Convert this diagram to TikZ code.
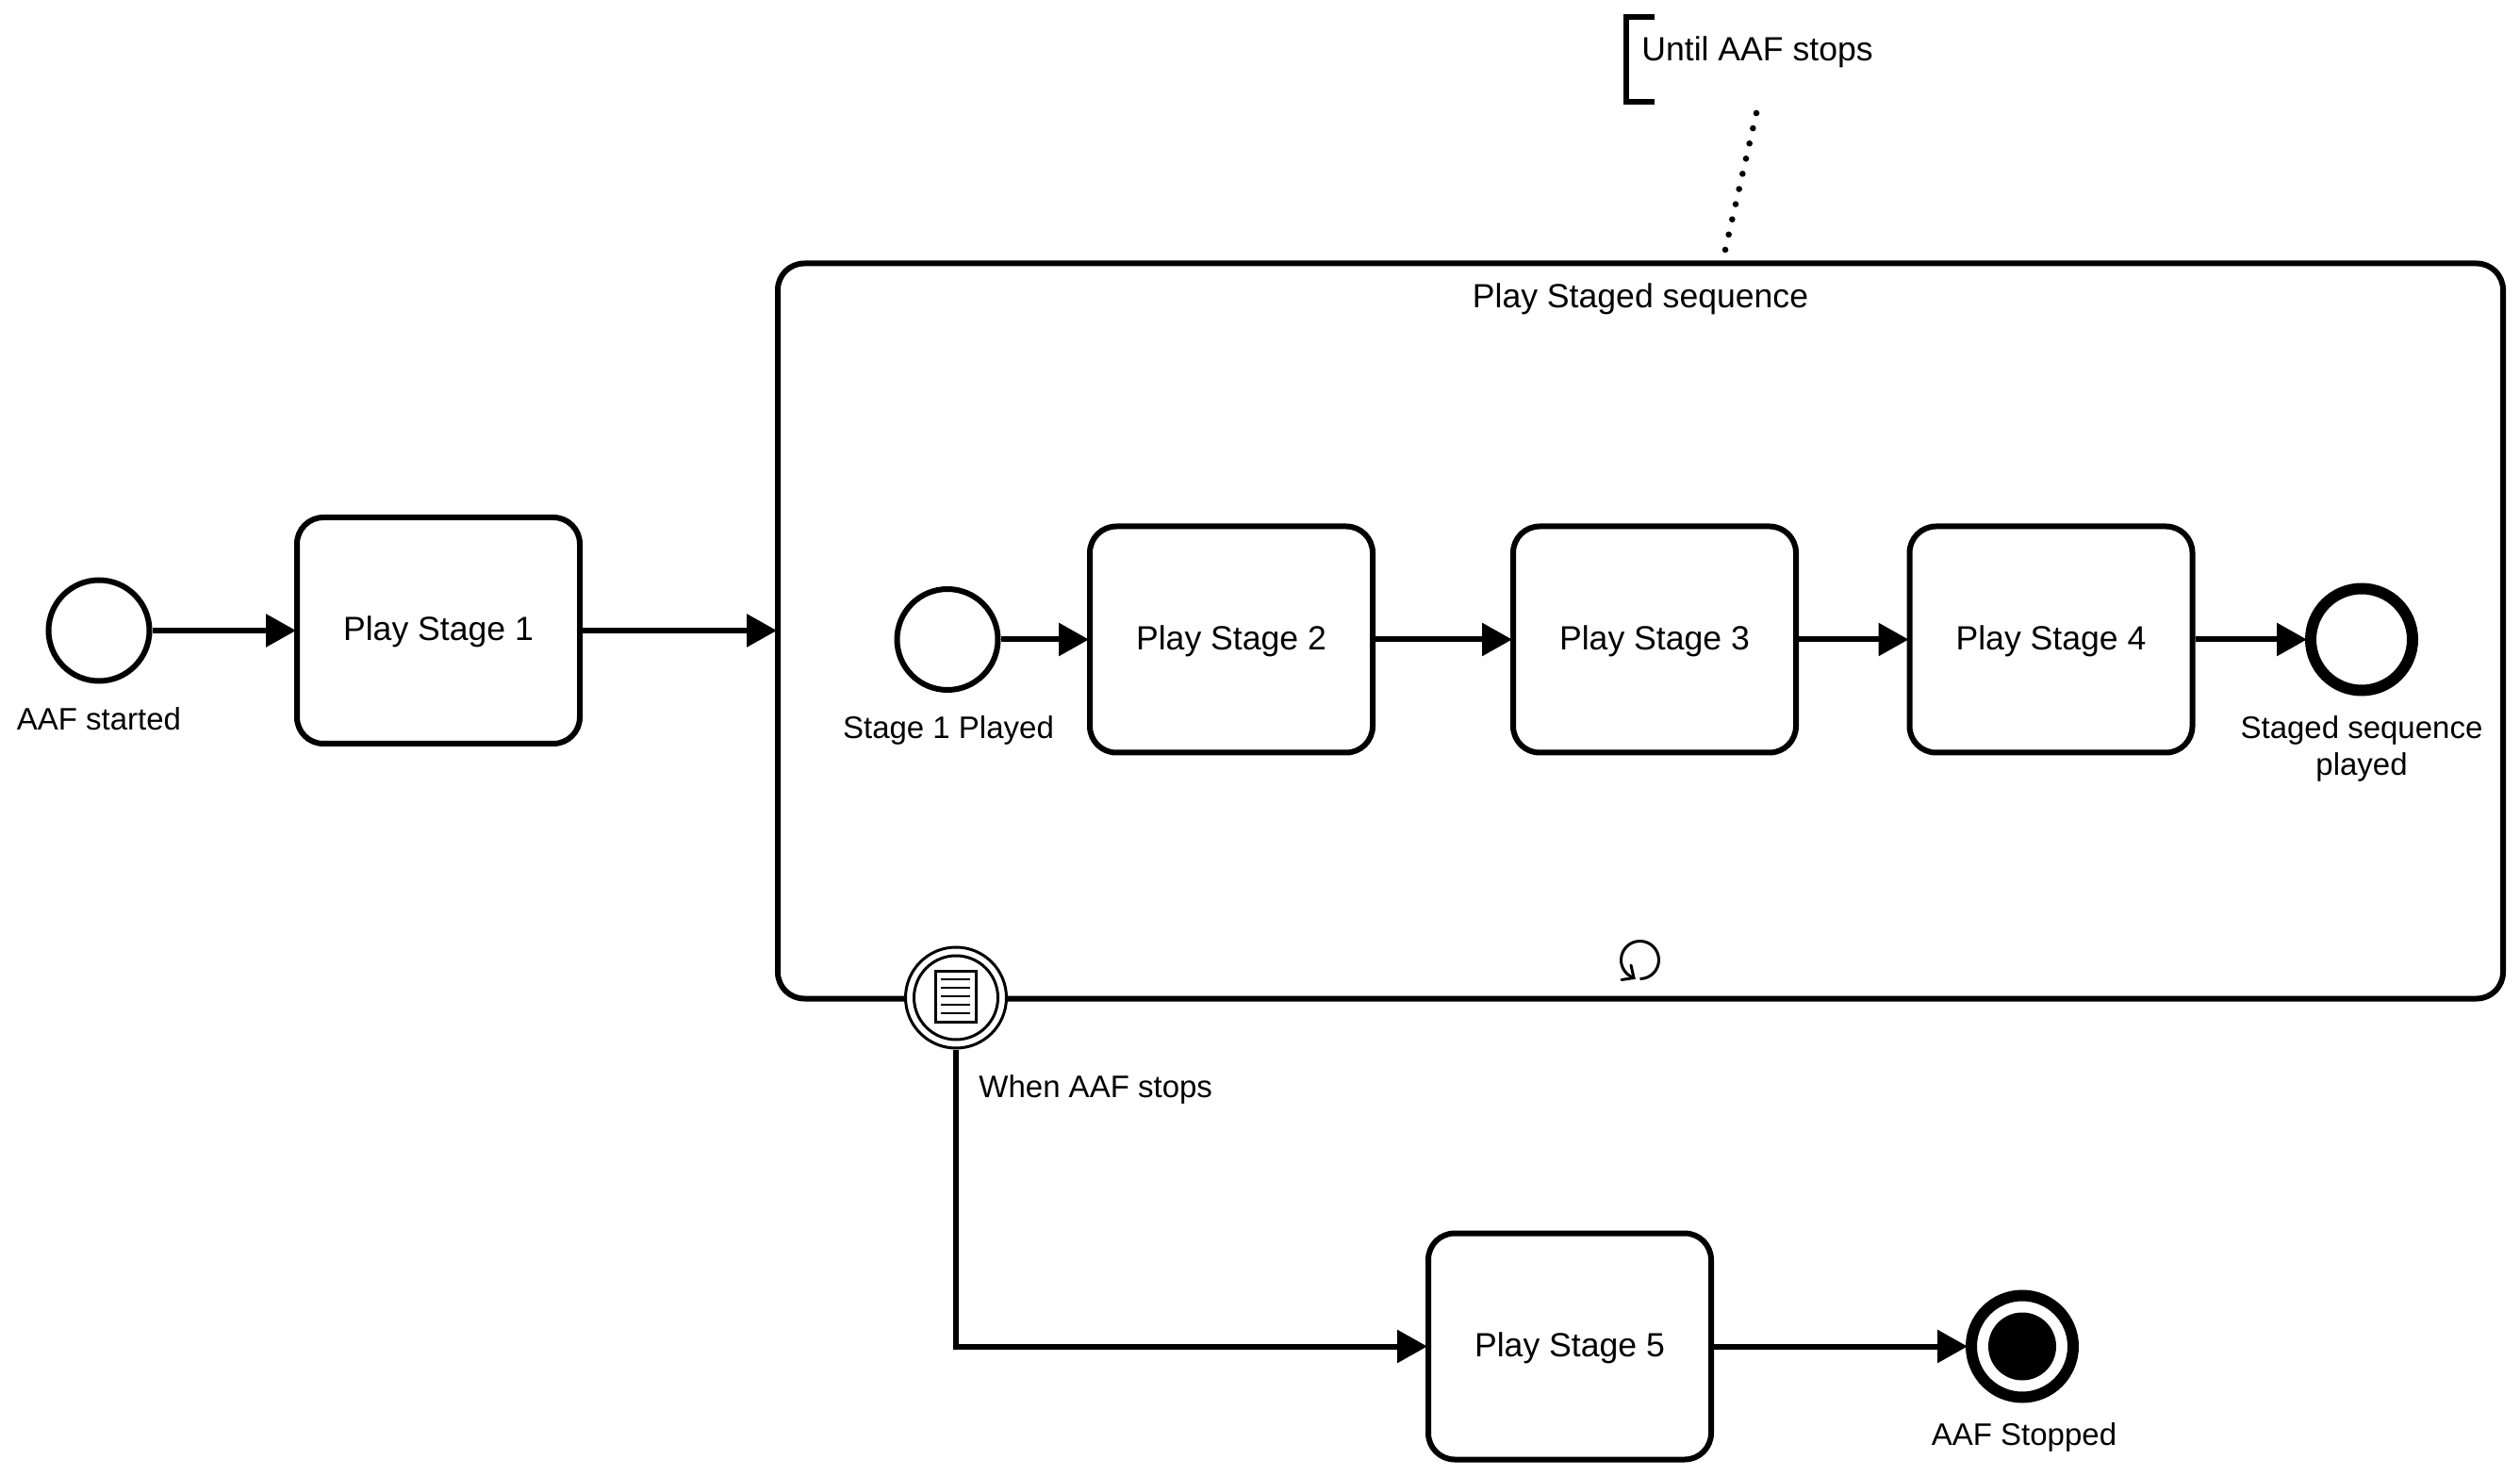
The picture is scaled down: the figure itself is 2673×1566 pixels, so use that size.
\documentclass[tikz,border=0pt]{standalone}
\usepackage{fontspec}
\setmainfont{Liberation Sans}
\usetikzlibrary{arrows.meta}
\tikzset{
  px/.style={x=0.5pt,y=-0.5pt},
  task/.style={draw=black,line width=3pt,rounded corners=14pt,fill=white,minimum width=150pt,minimum height=120pt,inner sep=0pt,font=\fontsize{17.8}{20}\selectfont,text height=12.7pt,text depth=1.7pt},
  evstart/.style={circle,draw=black,line width=3pt,fill=white,minimum size=53.5pt,inner sep=0pt},
  evend/.style={circle,draw=black,line width=6pt,fill=white,minimum size=54pt,inner sep=0pt},
  lbl/.style={font=\fontsize{16.5}{20}\selectfont,anchor=base,inner sep=0pt,align=center},
  head/.style={font=\fontsize{17.8}{20}\selectfont,anchor=base,inner sep=0pt},
  flow/.style={draw=black,line width=3pt,shorten >=-1pt,-{Triangle[length=16pt,width=17pt]}},
  thinrim/.style={circle,draw=black,line width=1.5pt,fill=white,inner sep=0pt},
  icon/.style={draw=black,line width=1.3pt},
}
\begin{document}
\begin{tikzpicture}[px]
\useasboundingbox (0,0) rectangle (2673,1566);
\fill[white] (0,0) rectangle (2673,1566);

% expanded subprocess
\node[draw=black,line width=3pt,rounded corners=14pt,fill=white,minimum width=915pt,minimum height=390pt,inner sep=0pt] (sub) at (1740,669.5) {};
\node[head] (subt) at (1740,327) {Play Staged sequence};

% loop marker
\draw[line width=1.5pt] (1739.5,1038.5) coordinate (lps) arc[start angle=-90,end angle=248,radius=10pt] coordinate (lpe);
\draw[line width=1.5pt,line cap=round,line join=miter] (1730,1024) -- (1733,1037.5) -- (1720,1039.5);

% top level
\node[evstart] (s0) at (105,669) {};
\node[lbl] (s0l) at (105,775) {AAF started};
\node[task] (t1) at (465,669) {Play Stage 1};

% inner sequence
\node[evstart] (s1) at (1005,678.5) {};
\node[lbl] (s1l) at (1006,784) {Stage 1 Played};
\node[task] (t2) at (1306,678.5) {Play Stage 2};
\node[task] (t3) at (1755,678.5) {Play Stage 3};
\node[task] (t4) at (2175.5,678.5) {Play Stage 4};
\node[evend] (e1) at (2505,678.5) {};
\node[lbl] (e1l) at (2505,784) {Staged sequence};
\node[lbl] (e1m) at (2505,823) {played};

% boundary event
\node[thinrim,minimum size=53.5pt] (be) at (1014,1058.5) {};
\node[thinrim,minimum size=44.5pt] (bei) at (1014,1058.5) {};
\node[draw=black,line width=1.5pt,fill=white,minimum width=21.5pt,minimum height=27pt,inner sep=0pt] (doc) at (1014,1057.5) {};
\foreach \yy in {1039,1048,1057,1066,1075} \draw[icon] (998,\yy) -- (1029,\yy);
\node[lbl,anchor=base west] (bel) at (1038,1164) {When AAF stops};

% lower sequence
\node[task] (t5) at (1665,1428.5) {Play Stage 5};
\node[evend] (e2) at (2145,1428.5) {};
\node[circle,fill=black,minimum size=36pt,inner sep=0pt] (e2i) at (2145,1428.5) {};
\node[lbl] (e2l) at (2147,1533) {AAF Stopped};

% annotation
\coordinate (ba) at (1755,18);
\coordinate (bb) at (1755,108);
\draw[line width=3pt] (ba) -- (1725,18) -- (1725,108) -- (bb);
\node[head,anchor=base west] (ann) at (1741,65) {Until AAF stops};
\coordinate (da) at (1863,120);
\coordinate (db) at (1830,265);
\draw[line width=3.3pt,line cap=round,dash pattern=on 0pt off 8.26pt] (da) -- (db);

% sequence flows
\draw[flow] (s0) -- (t1);
\draw[flow] (t1.east) -- (t1.east -| sub.west);
\draw[flow] (s1) -- (t2);
\draw[flow] (t2) -- (t3);
\draw[flow] (t3) -- (t4);
\draw[flow] (t4) -- (e1);
\draw[flow] (be.south) |- (t5.west);
\draw[flow] (t5) -- (e2);
\end{tikzpicture}
\end{document}
